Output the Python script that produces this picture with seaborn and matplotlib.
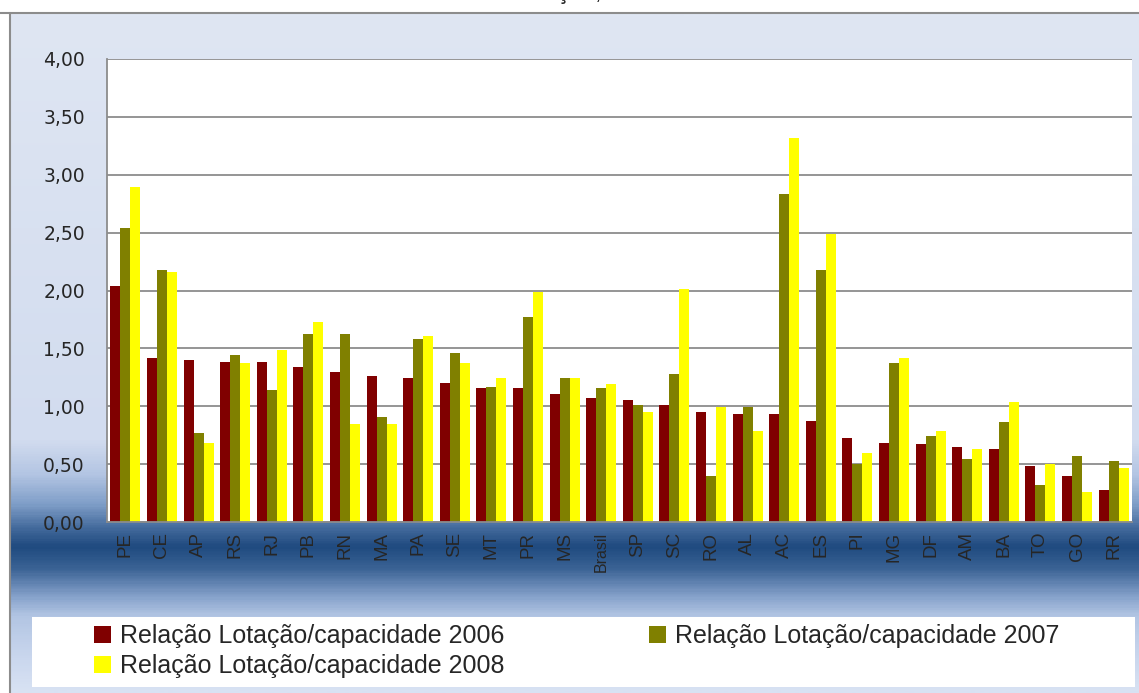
import numpy as np
import pandas as pd
import matplotlib
matplotlib.use('Agg')
import matplotlib.pyplot as plt
import seaborn as sns
from matplotlib.colors import LinearSegmentedColormap
from matplotlib.patches import Rectangle

# dados
ufs = ['PE', 'CE', 'AP', 'RS', 'RJ', 'PB', 'RN', 'MA', 'PA', 'SE', 'MT', 'PR', 'MS', 'Brasil',
       'SP', 'SC', 'RO', 'AL', 'AC', 'ES', 'PI', 'MG', 'DF', 'AM', 'BA', 'TO', 'GO', 'RR']
v2006 = [2.04, 1.42, 1.40, 1.38, 1.38, 1.34, 1.30, 1.26, 1.24, 1.20, 1.16, 1.16, 1.11, 1.07,
         1.05, 1.01, 0.95, 0.93, 0.93, 0.87, 0.73, 0.68, 0.67, 0.65, 0.63, 0.48, 0.40, 0.28]
v2007 = [2.54, 2.18, 0.77, 1.44, 1.14, 1.62, 1.62, 0.91, 1.58, 1.46, 1.17, 1.77, 1.24, 1.16,
         1.01, 1.28, 0.40, 0.99, 2.83, 2.18, 0.50, 1.37, 0.74, 0.54, 0.86, 0.32, 0.57, 0.53]
v2008 = [2.89, 2.16, 0.68, 1.37, 1.49, 1.73, 0.85, 0.85, 1.61, 1.37, 1.24, 1.99, 1.24, 1.19,
         0.95, 2.01, 0.99, 0.79, 3.32, 2.49, 0.60, 1.42, 0.79, 0.63, 1.04, 0.50, 0.26, 0.47]
series = ['Relação Lotação/capacidade 2006',
          'Relação Lotação/capacidade 2007',
          'Relação Lotação/capacidade 2008']
colors = ['#800000', '#808000', '#ffff00']
yticks = [0, 0.5, 1, 1.5, 2, 2.5, 3, 3.5, 4]

df = pd.DataFrame({
    'uf': ufs * 3,
    'valor': v2006 + v2007 + v2008,
    'serie': [series[0]] * len(ufs) + [series[1]] * len(ufs) + [series[2]] * len(ufs),
})

W, H = 1139, 693
sns.set_style('white')
plt.rcParams['font.family'] = ['Liberation Sans', 'DejaVu Sans']

fig = plt.figure(figsize=(W / 100, H / 100), dpi=100)


def fx(px):
    return px / W


def fy(py):
    return 1 - py / H


# fundo com degrade (estilo excel)
bg = fig.add_axes([0, 0, 1, 1], zorder=-10)
bg.set_xlim(0, W)
bg.set_ylim(H, 0)
bg.axis('off')
stops = [(13, '#dfe6f3'), (440, '#d2dcef'), (475, '#b3c5e3'), (505, '#7f9ec8'),
         (530, '#41689a'), (548, '#1f4a7f'), (570, '#3b6395'), (598, '#86a2cb'),
         (617, '#b2c5e3'), (660, '#cad7ee'), (693, '#d8e2f3')]
cmap = LinearSegmentedColormap.from_list('bg', [((y - 13) / (H - 13), c) for y, c in stops])
grad = np.linspace(0, 1, 600).reshape(-1, 1)
bg.imshow(grad, cmap=cmap, aspect='auto', extent=(10, W, H, 13), interpolation='bilinear')
bg.plot([0, W], [13, 13], color='#8c8c8c', lw=1.5)
bg.plot([10, 10], [13, H], color='#8c8c8c', lw=1.5)
bg.add_patch(Rectangle((32, 617), 1103, 70, fc='white', ec='none'))
# titulo cortado no topo do original
bg.text(511, -1, 'Lotação, 2006-2008', fontsize=17, va='baseline', ha='left')

ax = fig.add_axes([fx(107), fy(522), fx(1132) - fx(107), fy(59) - fy(522)])
ax.set_facecolor('white')
sns.barplot(data=df, x='uf', y='valor', hue='serie', palette=colors, width=0.82,
            saturation=1, linewidth=0, errorbar=None, legend=False, ax=ax)

ax.set_ylim(0, 4)
ax.set_xlim(-0.5, len(ufs) - 0.5)
ax.set_yticks(yticks)
ax.set_yticklabels([f'{t:.2f}'.replace('.', ',') for t in yticks],
                   fontfamily='DejaVu Sans', fontsize=13.5)
ax.yaxis.grid(True, color='#8c8c8c', lw=1.3)
ax.set_axisbelow(True)
ax.tick_params(axis='y', length=6, color='#8c8c8c', width=1.3, pad=10)

ax.set_xticks(range(len(ufs)))
ax.set_xticklabels(ufs, rotation=90, fontsize=13.5)
for lab in ax.get_xticklabels():
    if lab.get_text() == 'Brasil':
        lab.set_fontsize(11.5)
ax.tick_params(axis='x', length=0, pad=7)
ax.set_xticks(np.arange(-0.5, len(ufs), 1), minor=True)
ax.tick_params(axis='x', which='minor', length=6, color='#8c8c8c', width=1.3)
ax.set_xlabel('')
ax.set_ylabel('')
for s in ['top', 'right']:
    ax.spines[s].set_visible(False)
for s in ['left', 'bottom']:
    ax.spines[s].set_color('#8c8c8c')
    ax.spines[s].set_linewidth(1.3)

# legenda preenchida por linha: 2006, 2007 / 2008
handles = [Rectangle((0, 0), 1, 1, fc=c, ec='none') for c in colors]
order = [0, 2, 1]
fig.legend([handles[i] for i in order], [series[i] for i in order],
           loc='upper left', bbox_to_anchor=(fx(94), fy(624)), ncol=2, frameon=False,
           fontsize=18, handlelength=0.68, handleheight=0.68, handletextpad=0.35,
           columnspacing=5.8, labelspacing=0.25, borderpad=0, borderaxespad=0)

fig.savefig('out.png', dpi=100)
